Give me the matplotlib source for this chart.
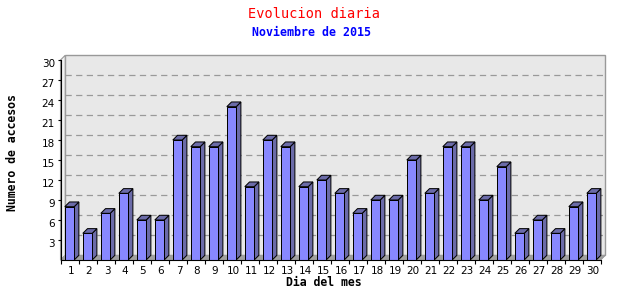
import matplotlib
matplotlib.use("Agg")
import matplotlib.pyplot as plt
from matplotlib.patches import Polygon, Rectangle
from matplotlib.transforms import ScaledTranslation

# datos: accesos por dia, noviembre 2015
dias = list(range(1, 31))
accesos = [8, 4, 7, 10, 6, 6, 18, 17, 17, 23, 11, 18, 17, 11, 12,
           10, 7, 9, 9, 15, 10, 17, 17, 9, 14, 4, 6, 4, 8, 10]
y_ticks = list(range(3, 31, 3))

titulo = "Evolucion diaria"
subtitulo = "Noviembre de 2015"
x_label = "Dia del mes"
y_label = "Numero de accesos"

FRONT = "#8888ff"
SIDE = "#6b6ba8"
WALL = "#e8e8e8"
WALL_EDGE = "#999999"
FLOOR = "#a0a0a0"

fig = plt.figure(figsize=(6.4, 3.0), dpi=100)
ax = fig.add_axes([60.5 / 640, 40 / 300, 540 / 640, 200 / 300])
ax.set_xlim(0.5, 30.5)
ax.set_ylim(0, 30)
ax.patch.set_visible(False)

# profundidad del efecto 3D en unidades de datos (~4.5 px)
dx = 4.7 / 18
dy = 4.7 / (200 / 30)
x0, x1 = 0.5, 30.5
ymax = 30

# pared del fondo
ax.add_patch(Rectangle((x0 + dx, dy), x1 - x0, ymax, facecolor=WALL,
                       edgecolor=WALL_EDGE, lw=1, zorder=0, clip_on=False))
# pared izquierda
ax.add_patch(Polygon([(x0, 0), (x0 + dx, dy), (x0 + dx, ymax + dy), (x0, ymax)],
                     closed=True, facecolor="#f2f2f2", edgecolor=WALL_EDGE,
                     lw=0.8, zorder=0, clip_on=False))
# lineas de la rejilla
for t in y_ticks[:-1]:
    ax.plot([x0 + dx, x1 + dx], [t + dy, t + dy], color="#999999", lw=0.9,
            ls=(0, (5, 3.5)), zorder=1, clip_on=False)
# suelo
ax.add_patch(Polygon([(x0, 0), (x1, 0), (x1 + dx, dy), (x0 + dx, dy)],
                     closed=True, facecolor=FLOOR, edgecolor=FLOOR, lw=0.5,
                     zorder=1, clip_on=False))
ax.plot([x1, x1 + dx], [0, dy], color=WALL_EDGE, lw=0.8, zorder=1, clip_on=False)

# barras
w = 0.52
lw_bar = 0.72
for d, v in zip(dias, accesos):
    xl, xr = d - w / 2, d + w / 2
    ax.add_patch(Polygon([(xr, 0), (xr + dx, dy), (xr + dx, v + dy), (xr, v)],
                         closed=True, facecolor=SIDE, edgecolor="black",
                         lw=lw_bar, zorder=3, clip_on=False))
    ax.add_patch(Polygon([(xl, v), (xr, v), (xr + dx, v + dy), (xl + dx, v + dy)],
                         closed=True, facecolor=SIDE, edgecolor="black",
                         lw=lw_bar, zorder=3, clip_on=False))
ax.bar(dias, accesos, width=w, color=FRONT, edgecolor="black", lw=lw_bar, zorder=4)

# ejes
for s in ["top", "right"]:
    ax.spines[s].set_visible(False)
for s in ["left", "bottom"]:
    ax.spines[s].set_color("black")
    ax.spines[s].set_linewidth(0.8)
    ax.spines[s].set_zorder(5)

ax.set_yticks(y_ticks)
ax.set_yticklabels([str(t) for t in y_ticks], fontsize=7.5, family="DejaVu Sans")
ax.tick_params(axis="y", length=2.5, width=0.8, pad=1.5, color="black")
off = ScaledTranslation(0, -3 / 100, fig.dpi_scale_trans)
for lab in ax.get_yticklabels():
    lab.set_transform(lab.get_transform() + off)

ax.set_xticks(dias)
ax.set_xticklabels([str(d) for d in dias], fontsize=7.5, family="DejaVu Sans")
ax.set_xticks([d + 0.5 for d in [0] + dias], minor=True)
ax.tick_params(axis="x", which="major", length=0, pad=4)
ax.tick_params(axis="x", which="minor", length=3, width=0.8, color="black")
offx = ScaledTranslation(1.5 / 100, 0, fig.dpi_scale_trans)
for lab in ax.get_xticklabels():
    lab.set_transform(lab.get_transform() + offx)

# textos
fig.text(314 / 640, 1 - 14 / 300, titulo, color="red", ha="center", va="center",
         family="DejaVu Sans Mono", fontsize=9.8)
fig.text(312 / 640, 1 - 32 / 300, subtitulo, color="blue", ha="center", va="center",
         family="DejaVu Sans Mono", fontsize=8.4, fontweight="bold")
fig.text(324 / 640, 1 - 282 / 300, x_label, ha="center", va="center",
         family="DejaVu Sans Mono", fontsize=8.3, fontweight="bold")
fig.text(13 / 640, 1 - 153 / 300, y_label, ha="center", va="center", rotation=90,
         family="DejaVu Sans Mono", fontsize=8.3, fontweight="bold")

fig.savefig("out.png", dpi=100)
